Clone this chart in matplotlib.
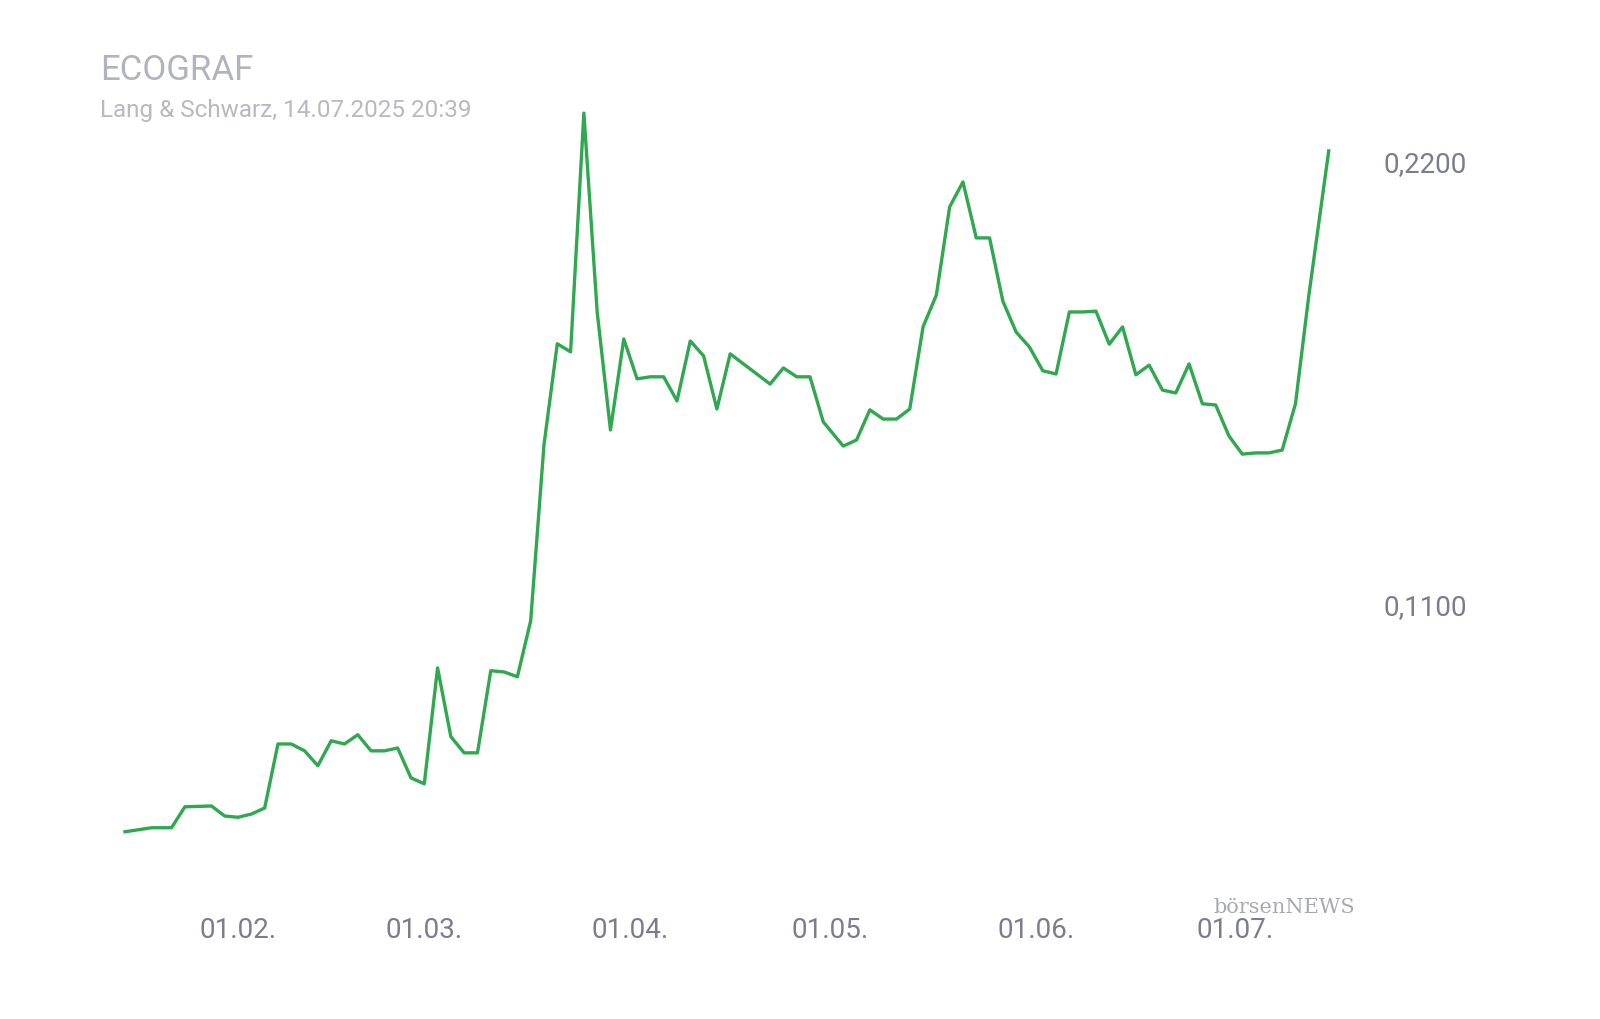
import matplotlib
matplotlib.use("Agg")
import matplotlib.pyplot as plt
import pandas as pd

plt.rcParams['font.family'] = ['Roboto', 'DejaVu Sans']

dates = ["2025-01-15","2025-01-19","2025-01-22","2025-01-24","2025-01-28","2025-01-30","2025-02-01","2025-02-03",
"2025-02-05","2025-02-07","2025-02-09","2025-02-11","2025-02-13","2025-02-15","2025-02-17","2025-02-19","2025-02-21",
"2025-02-23","2025-02-25","2025-02-27","2025-03-01","2025-03-03","2025-03-05","2025-03-07","2025-03-09","2025-03-11",
"2025-03-13","2025-03-15","2025-03-17","2025-03-19","2025-03-21","2025-03-23","2025-03-25","2025-03-27","2025-03-29",
"2025-03-31","2025-04-02","2025-04-04","2025-04-06","2025-04-08","2025-04-10","2025-04-12","2025-04-14","2025-04-16",
"2025-04-22","2025-04-24","2025-04-26","2025-04-28","2025-04-30","2025-05-03","2025-05-05","2025-05-07","2025-05-09",
"2025-05-11","2025-05-13","2025-05-15","2025-05-17","2025-05-19","2025-05-21","2025-05-23","2025-05-25","2025-05-27",
"2025-05-29","2025-05-31","2025-06-02","2025-06-04","2025-06-06","2025-06-08","2025-06-10","2025-06-12","2025-06-14",
"2025-06-16","2025-06-18","2025-06-20","2025-06-22","2025-06-24","2025-06-26","2025-06-28","2025-06-30","2025-07-02",
"2025-07-04","2025-07-06","2025-07-08","2025-07-10","2025-07-12","2025-07-15"]
prices = [0.0534,0.0544,0.0544,0.0596,0.0598,0.0573,0.0570,0.0578,0.0593,0.0752,0.0752,0.0735,0.0698,0.0760,0.0752,
0.0775,0.0735,0.0735,0.0742,0.0668,0.0653,0.0941,0.0770,0.0730,0.0730,0.0934,0.0931,0.0919,0.1058,0.1495,0.1746,
0.1726,0.2319,0.1825,0.1532,0.1758,0.1659,0.1664,0.1664,0.1604,0.1753,0.1716,0.1584,0.1721,0.1646,0.1686,0.1664,
0.1664,0.1552,0.1492,0.1507,0.1582,0.1559,0.1559,0.1584,0.1788,0.1867,0.2086,0.2148,0.2009,0.2009,0.1852,0.1775,
0.1738,0.1679,0.1671,0.1825,0.1825,0.1827,0.1745,0.1788,0.1669,0.1693,0.1631,0.1624,0.1696,0.1597,0.1594,0.1517,
0.1472,0.1475,0.1475,0.1482,0.1597,0.1865,0.2225]
yticks = [0.11, 0.22]
ytick_labels = ["0,1100", "0,2200"]
xticks = ["2025-02-01","2025-03-01","2025-04-01","2025-05-01","2025-06-01","2025-07-01"]
xtick_labels = ["01.02.","01.03.","01.04.","01.05.","01.06.","01.07."]

fig = plt.figure(figsize=(16, 10.2), dpi=100)
ax = fig.add_axes([100/1600, 120/1020, 1250/1600, 800/1020])
d = pd.to_datetime(dates)
ax.plot(d, prices, color="#2fa84f", lw=2.4)
start = pd.Timestamp("2025-01-15")
ax.set_xlim(start - pd.Timedelta(days=3.76), start + pd.Timedelta(days=184.2))
ax.set_ylim(0.0367, 0.2354)
for s in ax.spines.values():
    s.set_visible(False)
ax.yaxis.tick_right()
ax.set_yticks(yticks, ytick_labels)
ax.set_xticks(pd.to_datetime(xticks), xtick_labels)
ax.tick_params(length=0, labelsize=20, colors="#7c7c8e")
ax.tick_params(axis="y", pad=24)
ax.tick_params(axis="x", pad=12)
fig.text(100/1600, 1-70/1020, "ECOGRAF", fontsize=25, color="#b3b3c0", va="center")
fig.text(100/1600, 1-111/1020, "Lang & Schwarz, 14.07.2025 20:39", fontsize=17.5, color="#b8b8c4", va="center")
fig.text(1213/1600, 1-908/1020, "börsenNEWS", fontsize=15, color="#a8a8b4", va="center", family="DejaVu Serif")
fig.savefig("out.png", dpi=100, facecolor="white")
